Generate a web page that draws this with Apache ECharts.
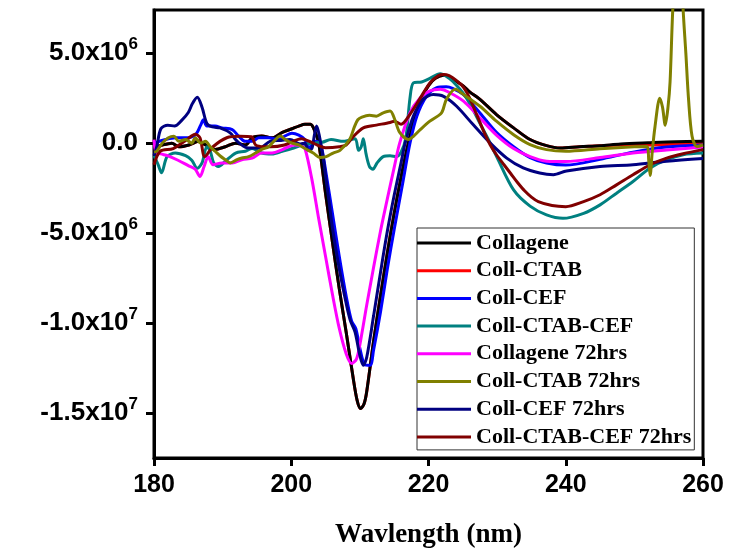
<!DOCTYPE html>
<html>
<head>
<meta charset="utf-8">
<script src="https://cdn.jsdelivr.net/npm/echarts@6/dist/echarts.min.js"></script>
<style>
  html, body { margin: 0; padding: 0; background: #fff; }
  #cd { width: 729px; height: 555px; }
</style>
</head>
<body>
<div id="cd"></div>
<script>
// CD spectra, values in units of 10^6 (deg cm2 dmol-1), [wavelength nm, value]
var seriesNames = ['Collagene', 'Coll-CTAB', 'Coll-CEF', 'Coll-CTAB-CEF',
    'Collagene 72hrs', 'Coll-CTAB 72hrs', 'Coll-CEF 72hrs', 'Coll-CTAB-CEF 72hrs'];
var seriesColors = ['#000000', '#ff0000', '#0000ff', '#008080',
    '#ff00ff', '#808000', '#000080', '#800000'];
var yTicks = [-15, -10, -5, 0, 5];

var collagene = [[180,-0.25],[181.2,-0.1],[182.6,0.0],[183.6,-0.2],[185.1,-0.1],[186.5,0.1],[187.5,-0.1],[188.9,-0.35],[190.4,-0.2],[191.9,0.0],[193.3,-0.1],[194.3,0.3],[195.7,0.4],[197.2,0.3],[198.7,0.6],[200.1,0.8],[201.1,0.95],[202,1.05],[202.8,1.05],[203.4,0.7],[204,0.0],[205,-2.8],[206,-5.5],[207,-8.1],[208,-10.5],[209,-13.0],[209.6,-14.3],[210.1,-14.75],[210.6,-14.5],[211,-13.8],[212,-11.0],[213,-8.5],[214,-6.1],[215,-3.9],[216,-1.9],[217,-0.1],[218,1.4],[219,2.5],[220,3.2],[221,3.6],[222.2,3.77],[223,3.7],[224,3.45],[225.1,3.17],[226,2.85],[227.5,2.43],[229.9,1.59],[232.4,0.85],[234.8,0.2],[237.2,-0.14],[239.2,-0.27],[242,-0.2],[245,-0.14],[248,-0.05],[252,0.02],[256,0.08],[260,0.1]];

var collCtab = [[180,-0.25],[181.2,-0.1],[182.6,0.0],[183.6,-0.2],[185.1,-0.1],[186.5,0.1],[187.5,-0.1],[188.9,-0.35],[190.4,-0.2],[191.9,0.0],[193.3,-0.1],[194.3,0.3],[195.7,0.4],[197.2,0.3],[198.7,0.6],[200.1,0.8],[201.1,0.95],[202,1.05],[202.8,1.05],[203.4,0.7],[204,0.0],[205,-2.8],[206,-5.5],[207,-8.1],[208,-10.5],[209,-13.0],[209.6,-14.3],[210.1,-14.75],[210.6,-14.5],[211,-13.8],[212,-11.0],[213,-8.5],[214,-6.1],[215,-3.9],[216,-1.9],[217,-0.1],[218,1.4],[219,2.5],[220,3.2],[221,3.6],[222.2,3.77],[223,3.7],[224,3.45],[225.1,3.17],[226,2.85],[227.5,2.43],[229.9,1.59],[232.4,0.85],[234.8,0.2],[237.2,-0.14],[239.2,-0.27],[242,-0.2],[245,-0.14],[248,-0.1],[252,-0.1],[256,-0.05],[260,0.0]];

var collCef = [[180,0.0],[181.7,0.2],[183.1,0.3],[184.6,0.3],[186,0.45],[186.8,1.0],[187.2,1.3],[187.7,0.95],[188.9,0.95],[189.9,0.85],[191.4,0.75],[192.3,0.4],[193.3,0.1],[194.3,0.1],[195.3,0.3],[196.7,0.3],[198.2,0.2],[199.1,0.4],[200.1,0.55],[201.1,0.45],[202,0.2],[202.6,-0.3],[203.3,0.1],[204,0.05],[204.4,-0.2],[205,-1.5],[206,-3.9],[207,-6.3],[208,-8.5],[208.8,-9.9],[209.4,-10.3],[210,-11.4],[210.7,-12.3],[211.5,-12.35],[212,-11.5],[213,-9.4],[214,-7.0],[215,-4.8],[216.3,-2.1],[217.3,0.0],[218.3,1.5],[219.7,2.6],[221.2,3.08],[222.6,3.13],[223.5,3.05],[225.1,2.7],[227.5,1.68],[229.9,0.6],[232.4,-0.2],[234.8,-0.8],[237.2,-1.1],[240,-1.22],[245,-0.9],[249.8,-0.5],[254.7,-0.22],[260,-0.1]];

var collCtabCef = [[180,-0.7],[180.6,-1.2],[181.1,-1.65],[181.9,-0.75],[183.1,-0.55],[184.6,-0.7],[185.5,-0.95],[186.3,-1.4],[187.0,-1.1],[187.7,-0.2],[188.2,-0.45],[188.7,-1.1],[189.4,-1.3],[190.4,-1.0],[191.9,-0.55],[193.3,-0.45],[194.3,-0.3],[195.7,-0.55],[197.2,-0.6],[198.7,-0.45],[200.1,-0.3],[201.6,-0.1],[203,0.0],[204.5,0.05],[205.8,0.2],[207.6,0.1],[209.3,0.25],[209.8,-0.4],[210.2,-0.2],[210.5,0.25],[210.9,-0.6],[211.4,-1.3],[211.9,-1.45],[212.5,-1.1],[213.4,-0.75],[214.4,-0.7],[215.3,-0.75],[216,-0.5],[216.7,0.3],[217.3,2.5],[217.8,3.35],[219,3.4],[220.2,3.6],[221.7,3.85],[223,3.6],[224,3.25],[225.1,2.75],[226.3,2.0],[227.5,1.1],[229,0.0],[230,-0.8],[232.4,-2.6],[234.8,-3.5],[237.2,-3.99],[239.6,-4.18],[242.6,-3.9],[245,-3.43],[247.4,-2.78],[249.8,-2.13],[252.3,-1.38],[254.7,-0.92],[257.1,-0.64],[260,-0.55]];

var collagene72 = [[180,0.2],[180.3,-0.5],[181,-0.6],[182,-0.7],[183.5,-0.95],[185,-1.25],[186,-1.45],[186.7,-1.85],[187.3,-1.3],[187.9,-0.75],[188.6,-1.2],[189.9,-1.1],[191.4,-1.1],[192.8,-0.92],[194.3,-0.83],[195.7,-0.55],[197.2,-0.55],[198.7,-0.36],[199.6,-0.2],[200.5,-0.1],[201.5,-0.15],[202,-0.3],[203,-2.0],[204,-4.2],[205,-6.3],[206,-8.4],[207,-10.3],[208,-11.7],[208.8,-12.25],[209.5,-12.0],[210,-11.2],[211,-9.0],[212,-6.9],[213,-4.9],[214,-3.1],[215,-1.35],[215.8,0.0],[217.3,1.68],[218.8,2.52],[220.2,2.9],[221.7,2.99],[223.1,2.8],[225.1,2.33],[227.5,1.4],[229.9,0.45],[232.4,-0.3],[234.8,-0.75],[237.2,-1.0],[240,-1.02],[245,-0.8],[249.8,-0.55],[254.7,-0.38],[260,-0.22]];

var collCtab72 = [[180,-0.5],[180.4,-0.45],[181.2,0.0],[182.1,0.3],[182.9,0.38],[183.6,0.1],[184.6,0.2],[185.5,0.0],[186,0.3],[186.8,0.0],[187.5,0.1],[188.2,-0.2],[188.9,-0.45],[189.7,-0.73],[190.4,-0.92],[191.1,-1.1],[192.1,-0.92],[192.8,-0.83],[193.8,-0.75],[194.8,-0.55],[195.7,-0.35],[196.7,-0.2],[197.7,0.2],[198.4,0.4],[199.1,0.2],[200.1,0.0],[201.1,-0.1],[202,-0.3],[203.2,-0.55],[204.2,-0.8],[205.1,-0.75],[206.1,-0.55],[207.1,-0.4],[208.5,0.2],[209.2,0.9],[209.7,1.3],[210.3,1.45],[211.4,1.55],[212.4,1.5],[213.4,1.68],[214.4,1.78],[215.1,1.3],[215.8,0.6],[217.1,0.2],[217.8,0.38],[218.8,0.75],[220.2,1.22],[221.9,1.68],[222.6,2.43],[223.9,2.99],[225.1,2.7],[227.5,2.05],[229.9,1.22],[232.4,0.47],[234.8,-0.08],[237.2,-0.36],[240,-0.45],[245,-0.31],[250,-0.2],[251.8,-0.18],[252.1,-1.0],[252.3,-1.8],[252.6,-0.5],[253,0.9],[253.7,2.5],[254.1,2.0],[254.5,1.0],[254.9,2.0],[255.2,3.4],[255.6,7.45],[256.2,11],[256.7,11],[257.1,7.45],[257.5,5],[257.9,2.4],[258.4,0.4],[259.1,-0.18],[260,-0.1]];

var collCef72 = [[180,-0.7],[180.4,-0.2],[181,0.8],[182,1.0],[183,0.95],[184,1.25],[185,1.7],[185.6,2.2],[186.3,2.55],[187,2.0],[187.7,1.1],[188.5,0.9],[189.6,0.85],[191.1,0.57],[192,0.15],[193.5,-0.25],[195.4,-0.27],[196.9,0.1],[198.5,0.15],[199.8,0.2],[201.3,-0.05],[202,0.0],[202.5,-0.4],[203,-0.3],[203.4,0.5],[203.7,0.95],[204.1,0.4],[204.7,-0.9],[205,-1.8],[205.5,-3.2],[206,-4.7],[207,-7.0],[208,-8.9],[208.6,-9.85],[209.3,-10.5],[210,-11.8],[210.5,-12.35],[211,-11.9],[212,-9.6],[213,-7.2],[214,-4.9],[215,-2.9],[216,-1.1],[216.6,0.0],[217.8,1.5],[219.2,2.43],[220.7,2.7],[222.2,2.6],[224.1,2.05],[226.5,1.03],[229,0.0],[231.4,-0.83],[233.8,-1.38],[236.2,-1.66],[238.2,-1.75],[240.1,-1.55],[245,-1.3],[249.8,-1.2],[254.7,-1.0],[260,-0.85]];

var collCtabCef72 = [[180,-1.2],[180.9,-0.45],[182.8,-0.3],[184.8,0.2],[186,0.5],[186.7,0.3],[187.4,-0.75],[188.6,-0.2],[190.6,0.3],[192.5,0.38],[194.2,0.35],[194.8,-0.1],[196,-0.2],[197,-0.2],[199,-0.1],[201.5,0.25],[203.2,0.0],[205,-0.25],[207,-0.2],[208,-0.1],[209,0.35],[210.5,0.85],[212.4,1.0],[214.4,1.15],[215,1.22],[216,1.05],[217.3,1.6],[218.8,2.5],[220.2,3.35],[221.4,3.75],[222.2,3.82],[223,3.75],[224,3.5],[225.1,3.1],[226,2.5],[227,1.6],[228,0.7],[229,-0.1],[230,-0.7],[231,-1.2],[232,-1.7],[233,-2.2],[234,-2.65],[235,-3.0],[236,-3.25],[238,-3.47],[240,-3.53],[242.6,-3.25],[245,-2.87],[247.4,-2.32],[249.8,-1.76],[252.3,-1.2],[254.7,-0.83],[257.1,-0.59],[260,-0.36]];

var seriesData = [collagene, collCtab, collCef, collCtabCef,
    collagene72, collCtab72, collCef72, collCtabCef72];
// drawing order (first = bottom)
var drawOrder = [1, 0, 2, 3, 4, 6, 7, 5];

function fmtY(v) {
    if (v === 0) return '{m|0.0}';
    var real = v * 1e6;
    var e = Math.floor(Math.log10(Math.abs(real)) + 1e-9);
    var m = (real / Math.pow(10, e)).toFixed(1);
    return '{m|' + m + 'x10}{s|' + e + '}';
}

var seriesList = [];
drawOrder.forEach(function (i) {
    seriesList.push({
        name: seriesNames[i],
        type: 'line',
        data: seriesData[i],
        showSymbol: false,
        symbol: 'none',
        smooth: 0.3,
        clip: true,
        lineStyle: { width: 3, color: seriesColors[i] },
        itemStyle: { color: seriesColors[i] }
    });
});

var myChart_cd = echarts.init(document.getElementById('cd'));
var option_cd = {
    animation: false,
    backgroundColor: '#ffffff',
    grid: {
        left: 154,
        right: 26,
        top: 10,
        bottom: 97,
        outerBoundsMode: 'none',
        show: true,
        borderColor: '#000',
        borderWidth: 3
    },
    legend: {
        data: seriesNames,
        orient: 'vertical',
        left: 417,
        top: 228,
        padding: [4, 3, 2, 0],
        itemWidth: 54,
        itemHeight: 3,
        itemGap: 5.7,
        icon: 'rect',
        backgroundColor: '#fff',
        borderColor: '#333',
        borderWidth: 1,
        textStyle: {
            fontFamily: 'Liberation Serif',
            fontWeight: 'bold',
            fontSize: 22,
            lineHeight: 22,
            color: '#000'
        }
    },
    xAxis: {
        type: 'value',
        min: 180,
        max: 260,
        interval: 20,
        name: 'Wavlength (nm)',
        nameLocation: 'middle',
        nameGap: 64,
        nameTextStyle: {
            fontFamily: 'Liberation Serif',
            fontWeight: 'bold',
            fontSize: 27,
            color: '#000'
        },
        axisLine: { show: true, onZero: false, lineStyle: { color: '#000', width: 3 } },
        axisTick: { show: true, length: 8, lineStyle: { color: '#000', width: 3 } },
        axisLabel: {
            margin: 15,
            fontFamily: 'Liberation Sans',
            fontWeight: 'bold',
            fontSize: 25,
            color: '#000'
        },
        splitLine: { show: false }
    },
    yAxis: {
        type: 'value',
        min: -17.5,
        max: 7.4,
        axisLine: { show: true, onZero: false, lineStyle: { color: '#000', width: 3 } },
        axisTick: {
            show: true,
            length: 8,
            customValues: yTicks,
            lineStyle: { color: '#000', width: 3 }
        },
        axisLabel: {
            customValues: yTicks,
            margin: 16,
            formatter: fmtY,
            rich: {
                m: { fontFamily: 'Liberation Sans', fontWeight: 'bold', fontSize: 26, color: '#000' },
                s: { fontFamily: 'Liberation Sans', fontWeight: 'bold', fontSize: 17, color: '#000', padding: [0, 0, 17, 0] }
            }
        },
        splitLine: { show: false }
    },
    series: seriesList
};
myChart_cd.setOption(option_cd);
</script>
</body>
</html>
